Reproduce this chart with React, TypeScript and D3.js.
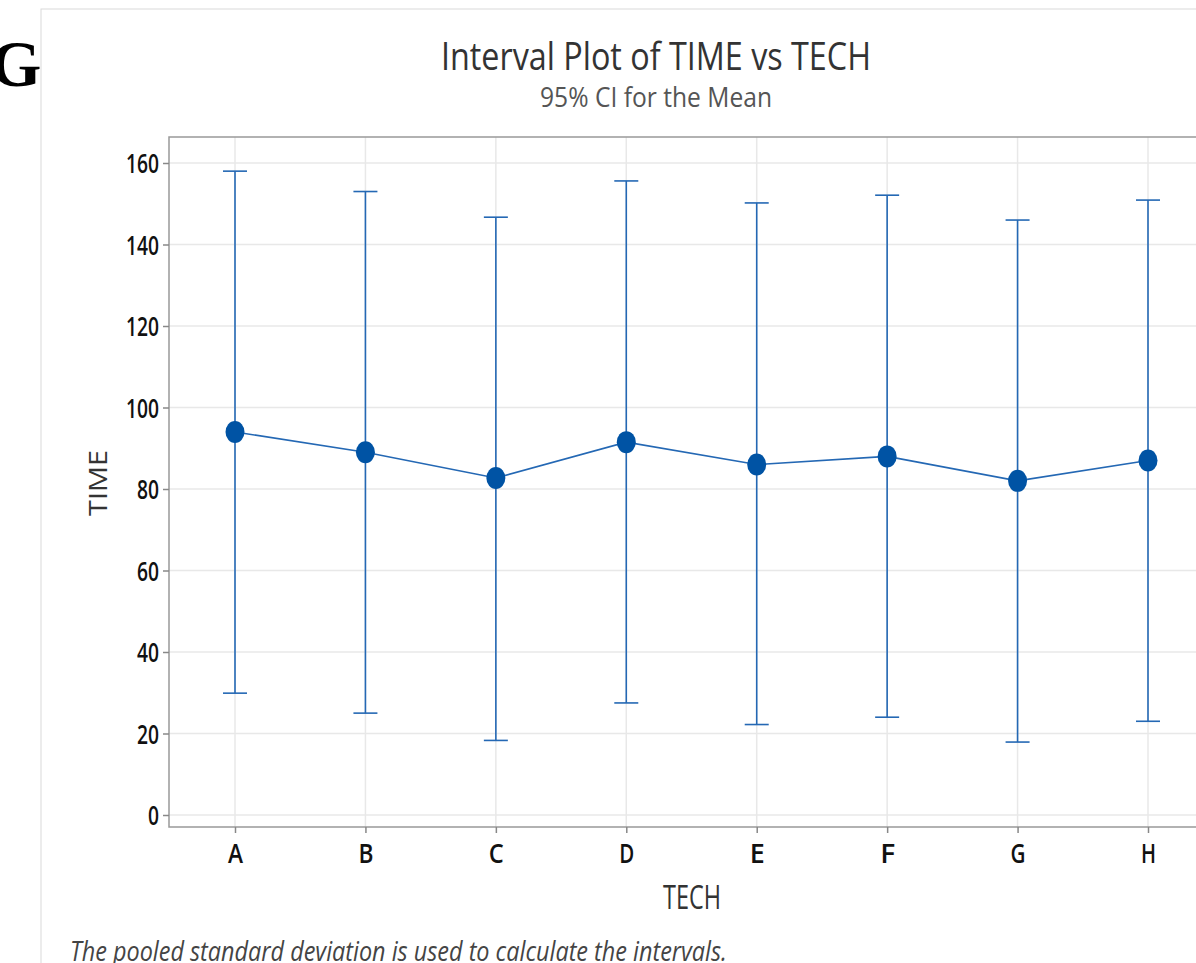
import * as d3 from 'd3';
import React, { useEffect, useRef } from 'react';

const techs = ['A', 'B', 'C', 'D', 'E', 'F', 'G', 'H'];
const means = [94, 89, 82.7, 91.5, 86, 88, 82, 87];
const upper = [158, 153, 146.7, 155.6, 150.2, 152.1, 146, 150.9];
const lower = [29.9, 25, 18.3, 27.5, 22.2, 24, 17.9, 23];
const yTicks = [0, 20, 40, 60, 80, 100, 120, 140, 160];

const W = 1196;
const H = 963;

const App = () => {
    const ref = useRef(null);

    useEffect(() => {
        const svg = d3.select(ref.current);
        svg.selectAll('*').remove();

        const left = 169, top = 137, bottom = 827, right = 1200;
        const x = d3.scalePoint().domain(techs).range([235, 1148]);
        const y = d3.scaleLinear().domain([0, 160]).range([815, 163]);
        const font = "'Open Sans', 'Noto Sans', sans-serif";

        // page text behind the panel
        svg.append('text')
            .attr('x', -10).attr('y', 86)
            .attr('font-family', "'Liberation Serif', serif")
            .attr('font-weight', 'bold')
            .attr('font-size', 66)
            .attr('fill', '#000')
            .text('Gl');

        // white panel
        svg.append('rect')
            .attr('x', 41).attr('y', 9)
            .attr('width', W).attr('height', H)
            .attr('fill', '#fff')
            .attr('stroke', '#d9d9d9');

        // grid
        svg.append('g').selectAll('line')
            .data(yTicks)
            .join('line')
            .attr('x1', left).attr('x2', right)
            .attr('y1', (d) => y(d)).attr('y2', (d) => y(d))
            .attr('stroke', '#e8e8e8').attr('stroke-width', 1.5);
        svg.append('g').selectAll('line')
            .data(techs)
            .join('line')
            .attr('x1', (d) => x(d)).attr('x2', (d) => x(d))
            .attr('y1', top).attr('y2', bottom)
            .attr('stroke', '#e8e8e8').attr('stroke-width', 1.5);

        // frame
        svg.append('rect')
            .attr('x', left).attr('y', top)
            .attr('width', right - left).attr('height', bottom - top)
            .attr('fill', 'none')
            .attr('stroke', '#999').attr('stroke-width', 1.5);

        // axes
        const yAxis = svg.append('g')
            .attr('transform', `translate(${left},0)`)
            .call(d3.axisLeft(y).tickValues(yTicks).tickSize(6).tickPadding(4));
        const xAxis = svg.append('g')
            .attr('transform', `translate(0,${bottom})`)
            .call(d3.axisBottom(x).tickSize(6).tickPadding(11));
        [yAxis, xAxis].forEach((g) => {
            g.select('.domain').remove();
            g.selectAll('.tick line').attr('stroke', '#888').attr('stroke-width', 1.5);
            g.selectAll('.tick text')
                .attr('fill', '#111')
                .style('font-family', font)
                .style('font-size', '27px')
                .style('font-weight', 600);
        });
        yAxis.selectAll('.tick text')
            .attr('dy', '0.36em')
            .attr('textLength', (d) => String(d).length * 11)
            .attr('lengthAdjust', 'spacingAndGlyphs');
        xAxis.selectAll('.tick text')
            .attr('dy', '0.72em')
            .attr('textLength', 15)
            .attr('lengthAdjust', 'spacingAndGlyphs');

        // intervals
        const blue = '#2468b4';
        const bars = svg.append('g');
        techs.forEach((t, i) => {
            bars.append('line')
                .attr('x1', x(t)).attr('x2', x(t))
                .attr('y1', y(upper[i])).attr('y2', y(lower[i]))
                .attr('stroke', blue).attr('stroke-width', 1.6);
            [upper[i], lower[i]].forEach((v) => {
                bars.append('line')
                    .attr('x1', x(t) - 12).attr('x2', x(t) + 12)
                    .attr('y1', y(v)).attr('y2', y(v))
                    .attr('stroke', blue).attr('stroke-width', 1.6);
            });
        });

        const line = d3.line()
            .x((d, i) => x(techs[i]))
            .y((d) => y(d));
        svg.append('path')
            .datum(means)
            .attr('d', line)
            .attr('fill', 'none')
            .attr('stroke', blue)
            .attr('stroke-width', 1.6);

        svg.append('g').selectAll('ellipse')
            .data(means)
            .join('ellipse')
            .attr('cx', (d, i) => x(techs[i]))
            .attr('cy', (d) => y(d))
            .attr('rx', 9.5).attr('ry', 11)
            .attr('fill', '#0053a4');

        // titles
        svg.append('text')
            .attr('x', 656).attr('y', 70)
            .attr('text-anchor', 'middle')
            .attr('textLength', 430).attr('lengthAdjust', 'spacingAndGlyphs')
            .style('font-family', font).style('font-size', '38px')
            .attr('fill', '#333')
            .text('Interval Plot of TIME vs TECH');
        svg.append('text')
            .attr('x', 656).attr('y', 107)
            .attr('text-anchor', 'middle')
            .attr('textLength', 232).attr('lengthAdjust', 'spacingAndGlyphs')
            .style('font-family', font).style('font-size', '27px')
            .attr('fill', '#555')
            .text('95% CI for the Mean');

        svg.append('text')
            .attr('transform', `translate(107,483) rotate(-90)`)
            .attr('text-anchor', 'middle')
            .attr('textLength', 66).attr('lengthAdjust', 'spacingAndGlyphs')
            .style('font-family', font).style('font-size', '26px')
            .attr('fill', '#333')
            .text('TIME');
        svg.append('text')
            .attr('x', 692).attr('y', 909)
            .attr('text-anchor', 'middle')
            .attr('textLength', 58).attr('lengthAdjust', 'spacingAndGlyphs')
            .style('font-family', font).style('font-size', '32px')
            .attr('fill', '#333')
            .text('TECH');

        svg.append('text')
            .attr('x', 70).attr('y', 961)
            .attr('textLength', 657).attr('lengthAdjust', 'spacingAndGlyphs')
            .style('font-family', font).style('font-size', '28px')
            .style('font-style', 'italic')
            .attr('fill', '#444')
            .text('The pooled standard deviation is used to calculate the intervals.');
    }, []);

    return (
        <svg ref={ref} width={W} height={H}
            style={{ position: 'absolute', left: 0, top: 0, background: '#fff' }} />
    );
};

export default App;
